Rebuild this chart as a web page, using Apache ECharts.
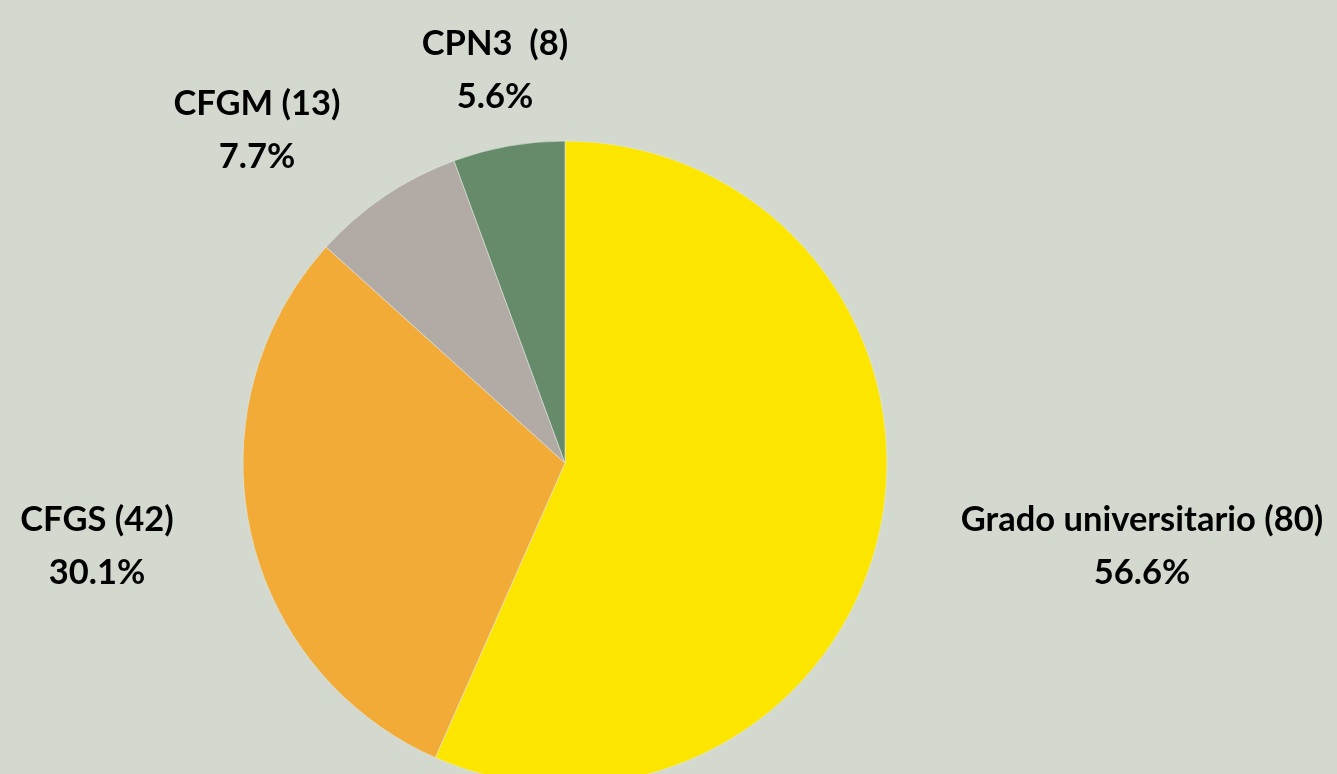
<!DOCTYPE html>
<html>
<head>
<meta charset="utf-8">
<script src="https://cdn.jsdelivr.net/npm/echarts@6/dist/echarts.min.js"></script>
<style>
  html, body { margin: 0; padding: 0; background: #d3d9cf; }
  #main { width: 1337px; height: 774px; }
</style>
</head>
<body>
<div id="main"></div>
<script>
// categorias, recuentos y porcentajes
var categories = ["Grado universitario", "CFGS", "CFGM", "CPN3 "];
var counts = [80, 42, 13, 8];
var percents = [56.6, 30.1, 7.7, 5.6];
var colors = ['#fce600', '#f2ab36', '#b2aaa4', '#668b6a'];

// donde van las etiquetas (centro del texto, px)
var labelPos = [[1142, 546], [97, 546], [257, 130], [495, 70]];

var seriesData = [];
for (var i = 0; i < categories.length; i++) {
    seriesData.push({
        name: categories[i],
        value: percents[i],
        count: counts[i],
        itemStyle: { color: colors[i] }
    });
}

var option = {
    backgroundColor: '#d3d9cf',
    animation: false,
    series: [
        {
            type: 'pie',
            center: [565, 463],
            radius: 322,
            startAngle: 90,
            clockwise: true,
            avoidLabelOverlap: false,
            itemStyle: {
                borderColor: '#e4e8e0',
                borderWidth: 0.6
            },
            label: {
                show: true,
                position: 'outside',
                formatter: function (p) {
                    return p.name + ' (' + p.data.count + ')\n' + p.value.toFixed(1) + '%';
                },
                fontFamily: 'Lato',
                fontWeight: 'bold',
                fontSize: 34.5,
                lineHeight: 53,
                color: '#000',
                align: 'center'
            },
            labelLine: { show: false },
            labelLayout: function (params) {
                var pos = labelPos[params.dataIndex];
                return {
                    x: pos[0],
                    y: pos[1],
                    align: 'center',
                    verticalAlign: 'middle'
                };
            },
            data: seriesData
        }
    ]
};

var dom_chart = echarts.init(document.getElementById('main'));
dom_chart.setOption(option);
</script>
</body>
</html>
